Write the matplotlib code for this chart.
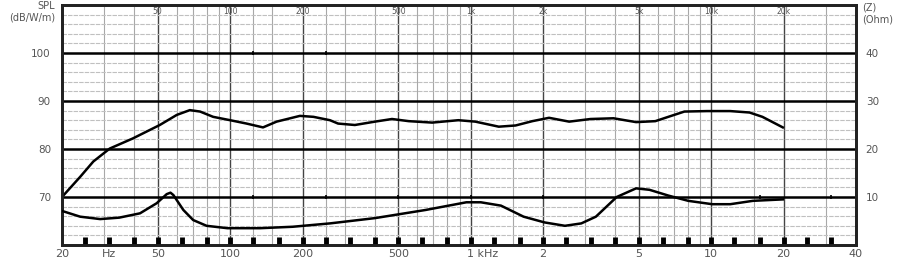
import matplotlib
matplotlib.use("Agg")
import matplotlib.pyplot as plt
import matplotlib.transforms as mtransforms

# ---- data ----
spl_freq = [20, 23.8, 27, 31.6, 39.4, 51, 60, 68, 75, 85, 100, 117, 137, 156,
            195, 222, 260, 281, 330, 400, 471, 553, 692, 889, 1046, 1309, 1537,
            1805, 2118, 2568, 3153, 3926, 4872, 5857, 6633, 7739, 9636, 12000,
            14440, 16330, 19850]
spl_db = [70, 74.2, 77.4, 80.1, 82.2, 85, 87.1, 88.1, 87.8, 86.7, 86, 85.3, 84.5,
          85.7, 86.9, 86.7, 86, 85.3, 85, 85.7, 86.25, 85.8, 85.5, 86, 85.7, 84.65,
          84.9, 85.8, 86.5, 85.7, 86.25, 86.4, 85.6, 85.8, 86.7, 87.8, 87.9, 87.9,
          87.6, 86.7, 84.5]

z_freq = [20, 23.8, 28.8, 34.6, 42.2, 49.5, 54.5, 56.5, 58.1, 63.9, 70.2, 79.8,
          97.5, 133, 182, 260, 400, 650, 960, 1102, 1337, 1660, 2030, 2466, 2884,
          3316, 3550, 4047, 4872, 5540, 6633, 8030, 10100, 12000, 14900, 19850]
z_ohm = [7.1, 5.9, 5.4, 5.7, 6.6, 8.7, 10.6, 10.9, 10.4, 7.3, 5.2, 4.0, 3.5, 3.5,
         3.8, 4.5, 5.6, 7.3, 8.9, 8.9, 8.2, 5.9, 4.7, 4.0, 4.5, 5.9, 7.3, 10, 11.8,
         11.5, 10.3, 9.2, 8.5, 8.5, 9.2, 9.5]

spl_ticks = [70, 80, 90, 100]
z_ticks = [10, 20, 30, 40]
bottom_tick_freqs = [20, 31.5, 50, 100, 200, 500, 1000, 2000, 5000, 10000, 20000, 40000]
bottom_tick_labels = ["20", "Hz", "50", "100", "200", "500", "1 kHz", "2", "5", "10", "20", "40"]
top_tick_freqs = [50, 100, 200, 500, 1000, 2000, 5000, 10000, 20000]
top_tick_labels = ["50", "100", "200", "500", "1k", "2k", "5k", "10k", "20k"]
third_octave = [25, 31.5, 40, 50, 63, 80, 100, 125, 160, 200, 250, 315, 400, 500,
                630, 800, 1000, 1250, 1600, 2000, 2500, 3150, 4000, 5000, 6300,
                8000, 10000, 12500, 16000, 20000, 25000, 31500]
octave_marks = [125, 250, 500, 1000, 2000, 16000, 31500]

minor_v = [30, 40, 60, 70, 80, 90, 125, 150, 250, 300, 400, 600, 700, 800, 900,
           1500, 3000, 4000, 6000, 7000, 8000, 9000, 15000, 30000]
major_v = [50, 100, 200, 500, 1000, 2000, 5000, 10000, 20000]

# ---- figure ----
fig = plt.figure(figsize=(9, 2.65), dpi=100)
ax = fig.add_axes([62/900, 1-245/265, (856-62)/900, 240/265])
ax.set_xscale("log")
ax.set_xlim(20, 40000)
ax.set_ylim(60, 110)

gray_txt = "#555555"

# grid
for f in minor_v:
    ax.axvline(f, color="#a8a8a8", lw=0.8, zorder=1)
for f in major_v:
    ax.axvline(f, color="#444444", lw=1.0, zorder=1)
for v in range(62, 110, 2):
    if v % 10 != 0:
        ax.axhline(v, color="#c0c0c0", lw=0.8, ls=(0, (4, 1)), zorder=1)
for v in spl_ticks:
    ax.axhline(v, color="black", lw=1.8, zorder=2)

# small marks on 70 and 100 lines
ax.plot(octave_marks, [70]*len(octave_marks), ls="none", marker="|", ms=3,
        mew=1.2, color="black", zorder=3)
ax.plot(octave_marks[:2], [100]*2, ls="none", marker="|", ms=3,
        mew=1.2, color="black", zorder=3)

# bottom third-octave markers
ax.vlines(third_octave, 60, 61.7, colors="black", lw=3.5, zorder=3)

# curves
ax.plot(spl_freq, spl_db, color="black", lw=1.8, zorder=4)

ax2 = ax.twinx()
ax2.set_ylim(0, 50)
ax2.plot(z_freq, z_ohm, color="black", lw=1.8, zorder=4)

for a in (ax, ax2):
    for s in a.spines.values():
        s.set_linewidth(2.0)
        s.set_color("#222222")

ax.set_yticks(spl_ticks)
ax.set_yticklabels([str(v) for v in spl_ticks], fontsize=7.5, color=gray_txt)
ax.tick_params(axis="y", length=0, pad=8)
ax2.set_yticks(z_ticks)
ax2.set_yticklabels([str(v) for v in z_ticks], fontsize=7.5, color=gray_txt)
ax2.tick_params(axis="y", length=0, pad=7)

ax.set_xticks(bottom_tick_freqs)
ax.set_xticklabels(bottom_tick_labels, fontsize=8, color=gray_txt)
ax.minorticks_off()
ax.tick_params(axis="x", which="both", length=0, pad=3)
for lbl in ax.get_xticklabels():
    if lbl.get_text() == "1 kHz":
        lbl.set_horizontalalignment("left")
        lbl.set_transform(lbl.get_transform() +
                          mtransforms.ScaledTranslation(-4/100, 0, fig.dpi_scale_trans))

# top labels inside
for f, t in zip(top_tick_freqs, top_tick_labels):
    ax.text(f, 108.6, t, fontsize=5.5, color=gray_txt, ha="center", va="center",
            zorder=5)

# axis titles
fig.text(55/900, 1-6/265, "SPL", fontsize=7, color=gray_txt, ha="right", va="center")
fig.text(55/900, 1-18/265, "(dB/W/m)", fontsize=7, color=gray_txt, ha="right", va="center")
fig.text(862/900, 1-7/265, "(Z)", fontsize=7, color=gray_txt, ha="left", va="center")
fig.text(862/900, 1-19/265, "(Ohm)", fontsize=7, color=gray_txt, ha="left", va="center")

fig.savefig("out.png", dpi=100)
